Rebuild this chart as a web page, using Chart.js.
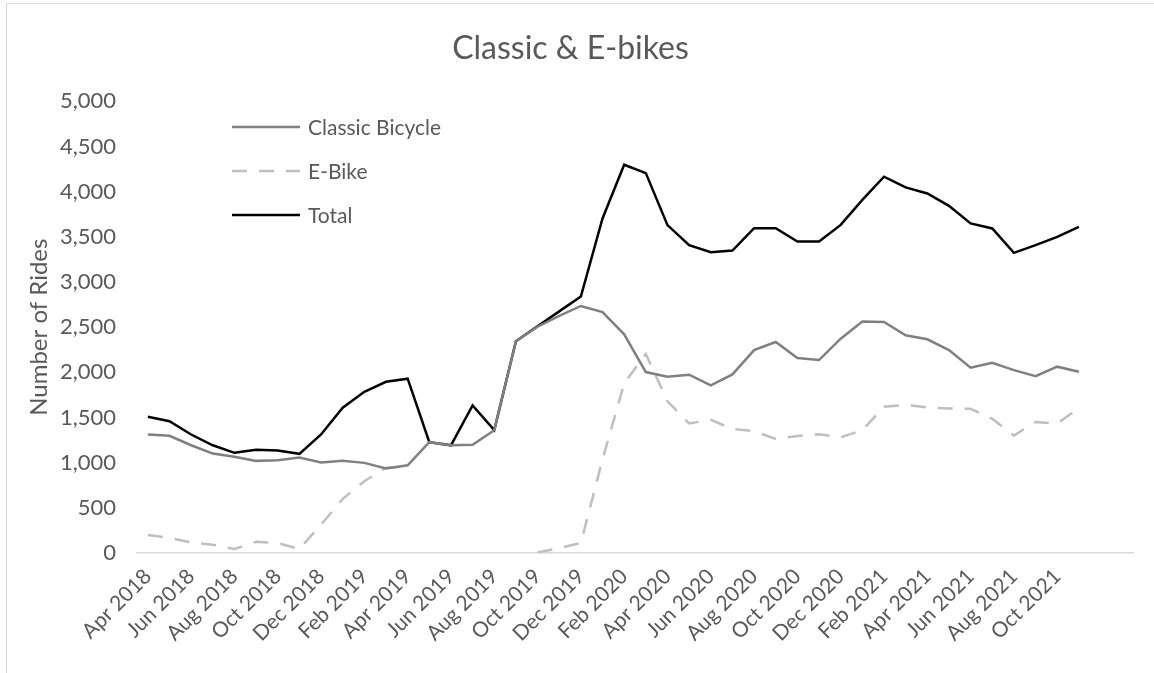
<!DOCTYPE html>
<html>
<head>
<meta charset="utf-8">
<script src="https://cdn.jsdelivr.net/npm/chart.js@4"></script>
<style>
  body { margin: 0; background: #fff; }
  #wrap { position: relative; width: 1154px; height: 673px; }
  #frame { position: absolute; left: 6px; top: 3px; right: 0; bottom: 0;
           border-left: 1px solid #d9d9d9; border-top: 1px solid #d9d9d9; pointer-events: none; }
</style>
</head>
<body>
<div id="wrap">
  <canvas id="canvas" width="1154" height="673"></canvas>
  <div id="frame"></div>
</div>
<script>
// months Apr 2018 - Nov 2021, plus two empty categories at the end
var months = [
  "Apr 2018","May 2018","Jun 2018","Jul 2018","Aug 2018","Sep 2018","Oct 2018","Nov 2018","Dec 2018",
  "Jan 2019","Feb 2019","Mar 2019","Apr 2019","May 2019","Jun 2019","Jul 2019","Aug 2019","Sep 2019",
  "Oct 2019","Nov 2019","Dec 2019","Jan 2020","Feb 2020","Mar 2020","Apr 2020","May 2020","Jun 2020",
  "Jul 2020","Aug 2020","Sep 2020","Oct 2020","Nov 2020","Dec 2020","Jan 2021","Feb 2021","Mar 2021",
  "Apr 2021","May 2021","Jun 2021","Jul 2021","Aug 2021","Sep 2021","Oct 2021","Nov 2021","",""
];

var classic = [1312,1297,1193,1101,1065,1020,1027,1057,1001,1020,998,935,971,1227,1192,1198,1360,2345,
  2505,2625,2735,2668,2421,2003,1952,1974,1855,1977,2247,2336,2158,2136,2373,2562,2558,2410,2366,2247,
  2052,2107,2025,1958,2063,2007];

// empty cells between May and Sep 2019 give a gap in the line
var ebike = [200,166,118,92,44,125,111,44,314,599,794,943,959,null,null,null,null,null,
  5,55,111,1036,1878,2205,1680,1434,1475,1372,1349,1262,1295,1315,1280,1360,1620,1640,1612,1600,
  1597,1486,1300,1450,1433,1604];

var total = [1508,1459,1312,1193,1109,1142,1134,1098,1312,1608,1785,1896,1930,1227,1192,1634,1360,2345,
  2510,2675,2839,3704,4299,4206,3630,3408,3330,3349,3596,3596,3449,3449,3633,3910,4166,4048,3981,3844,
  3649,3593,3323,3408,3500,3611];

var textColor = '#595959';
var fontFamily = 'Lato, "Open Sans", sans-serif';

// legend drawn inside the plot, one entry per row
var insideLegend = {
  id: 'insideLegend',
  afterDraw: function(chart) {
    var ctx = chart.ctx;
    var x0 = 232, x1 = 300, y = 127, step = 44;
    ctx.save();
    ctx.font = '21px ' + fontFamily;
    ctx.textBaseline = 'middle';
    chart.data.datasets.forEach(function(ds) {
      ctx.beginPath();
      ctx.strokeStyle = ds.borderColor;
      ctx.lineWidth = ds.borderWidth;
      ctx.setLineDash(ds.borderDash || []);
      ctx.moveTo(x0, y);
      ctx.lineTo(x1, y);
      ctx.stroke();
      ctx.setLineDash([]);
      ctx.fillStyle = textColor;
      ctx.fillText(ds.label, x1 + 8, y + 1);
      y += step;
    });
    ctx.restore();
  }
};

var config = {
  type: 'line',
  data: {
    labels: months,
    datasets: [
      { label: 'Classic Bicycle', data: classic, borderColor: '#808080', borderWidth: 2.5, pointRadius: 0, fill: false },
      { label: 'E-Bike', data: ebike, borderColor: '#bfbfbf', borderWidth: 2.5, borderDash: [15, 12], pointRadius: 0, fill: false, spanGaps: false },
      { label: 'Total', data: total, borderColor: '#000000', borderWidth: 2.5, pointRadius: 0, fill: false }
    ]
  },
  options: {
    responsive: false,
    animation: false,
    layout: { padding: { left: 8, right: 21, top: 10, bottom: 0 } },
    plugins: {
      legend: { display: false },
      tooltip: { enabled: false },
      title: {
        display: true,
        text: 'Classic & E-bikes',
        color: textColor,
        font: { family: fontFamily, size: 32, weight: 'normal' },
        padding: { top: 19, bottom: 34 }
      }
    },
    scales: {
      x: {
        type: 'category',
        offset: true,
        grid: { display: false, drawTicks: false },
        border: { display: true, color: '#d9d9d9', width: 1.5 },
        ticks: {
          autoSkip: false,
          maxRotation: 45,
          minRotation: 45,
          padding: 11,
          color: textColor,
          font: { family: fontFamily, size: 21 },
          callback: function(val, idx) { return idx % 2 === 0 ? this.getLabelForValue(val) : ''; }
        },
        afterFit: function(scale) { scale.height = 120; }
      },
      y: {
        min: 0,
        max: 5000,
        grid: { display: false },
        border: { display: false },
        ticks: {
          stepSize: 500,
          padding: 13,
          color: textColor,
          font: { family: fontFamily, size: 22 },
          callback: function(v) { return v.toLocaleString('en-US'); }
        },
        title: {
          display: true,
          text: 'Number of Rides',
          color: textColor,
          font: { family: fontFamily, size: 24 },
          padding: { top: 17, bottom: 0 }
        },
        afterFit: function(scale) { scale.width = 129; }
      }
    }
  },
  plugins: [insideLegend]
};

new Chart(document.getElementById('canvas'), config);
</script>
</body>
</html>
